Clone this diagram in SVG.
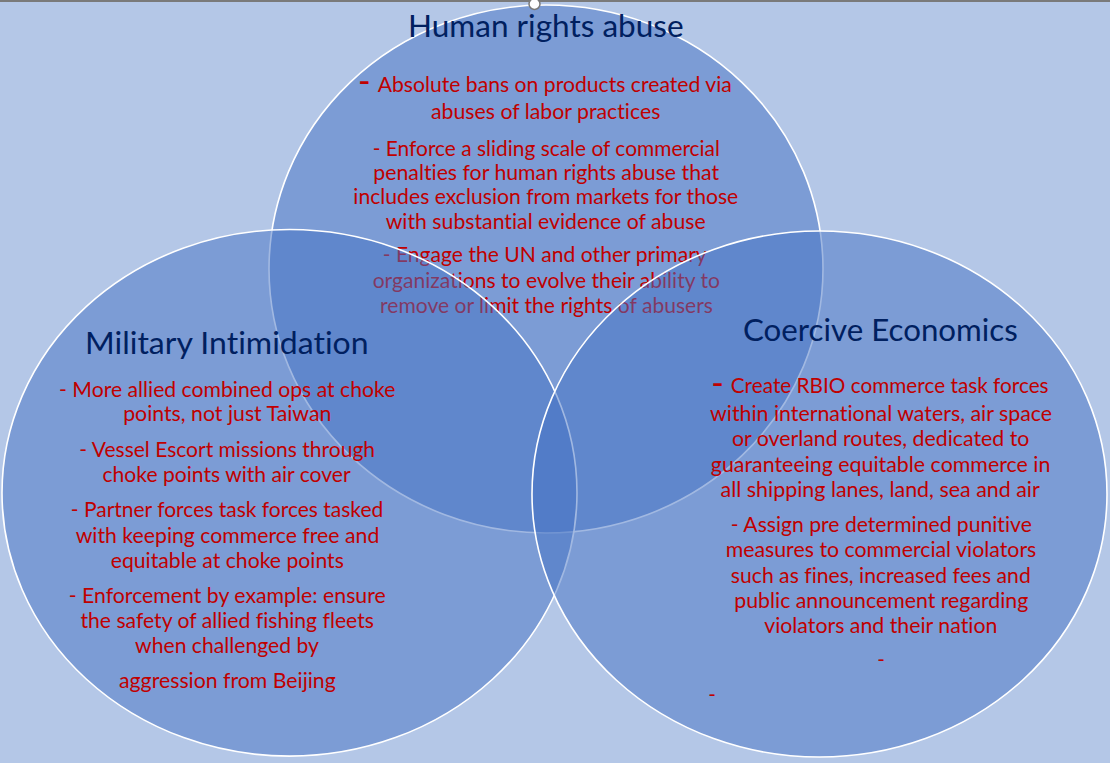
<svg xmlns="http://www.w3.org/2000/svg" width="1110" height="763" viewBox="0 0 1110 763">
<style>
.bg{fill:#b4c7e7}
.venn{fill:#4472c4;fill-opacity:0.5;stroke:#ffffff;stroke-width:1.6}
.ttl{font-family:Lato,"Liberation Sans",sans-serif;font-size:31px;fill:#002060;text-anchor:middle;font-variant-ligatures:none}
.bd{font-family:Lato,"Liberation Sans",sans-serif;font-size:20.5px;fill:#c00000;text-anchor:middle;font-variant-ligatures:none}
.dash{font-family:Lato,"Liberation Sans",sans-serif;font-size:34px;fill:#c00000;text-anchor:middle}
</style>
<rect class="bg" x="0" y="0" width="1110" height="763"/>
<line x1="0" y1="1" x2="1110" y2="1" stroke="#7a7a7a" stroke-width="2"/>

<g id="human-rights-abuse">
<ellipse class="venn" cx="546" cy="269" rx="277" ry="264"/>
<text class="ttl" x="545.8" y="37.3" textLength="275.6" lengthAdjust="spacingAndGlyphs">Human rights abuse</text>
<text class="dash" x="364.3" y="93.2">-</text>
<text class="bd" x="554.7" y="91.7" textLength="354.1" lengthAdjust="spacingAndGlyphs">Absolute bans on products created via</text>
<text class="bd" x="545.7" y="119" textLength="229.3" lengthAdjust="spacingAndGlyphs">abuses of labor practices</text>
<text class="bd" x="546.3" y="155.7" textLength="347.3" lengthAdjust="spacingAndGlyphs">- Enforce a sliding scale of commercial</text>
<text class="bd" x="546.2" y="180" textLength="345.7" lengthAdjust="spacingAndGlyphs">penalties for human rights abuse that</text>
<text class="bd" x="545.8" y="204.3" textLength="385" lengthAdjust="spacingAndGlyphs">includes exclusion from markets for those</text>
<text class="bd" x="545.7" y="229" textLength="320" lengthAdjust="spacingAndGlyphs">with substantial evidence of abuse</text>
<text class="bd" x="544.7" y="262.3" textLength="324" lengthAdjust="spacingAndGlyphs">- Engage the UN and other primary</text>
<text class="bd" x="546.3" y="288.3" textLength="347.3" lengthAdjust="spacingAndGlyphs">organizations to evolve their ability to</text>
<text class="bd" x="546.5" y="312.7" textLength="333" lengthAdjust="spacingAndGlyphs">remove or limit the rights of abusers</text>
</g>

<g id="military-intimidation">
<ellipse class="venn" cx="289.5" cy="492.8" rx="287.5" ry="263.3"/>
<text class="ttl" x="226.8" y="354" textLength="283.6" lengthAdjust="spacingAndGlyphs">Military Intimidation</text>
<text class="bd" x="227.2" y="396.7" textLength="336.4" lengthAdjust="spacingAndGlyphs">- More allied combined ops at choke</text>
<text class="bd" x="227.3" y="420.7" textLength="208.2" lengthAdjust="spacingAndGlyphs">points, not just Taiwan</text>
<text class="bd" x="227.2" y="456.7" textLength="295.7" lengthAdjust="spacingAndGlyphs">- Vessel Escort missions through</text>
<text class="bd" x="226.6" y="481.7" textLength="248.2" lengthAdjust="spacingAndGlyphs">choke points with air cover</text>
<text class="bd" x="227" y="517.3" textLength="312.5" lengthAdjust="spacingAndGlyphs">- Partner forces task forces tasked</text>
<text class="bd" x="227.5" y="542.5" textLength="303.6" lengthAdjust="spacingAndGlyphs">with keeping commerce free and</text>
<text class="bd" x="227.3" y="567.8" textLength="233.2" lengthAdjust="spacingAndGlyphs">equitable at choke points</text>
<text class="bd" x="227.2" y="603" textLength="317.1" lengthAdjust="spacingAndGlyphs">- Enforcement by example: ensure</text>
<text class="bd" x="227.2" y="627.7" textLength="293.5" lengthAdjust="spacingAndGlyphs">the safety of allied fishing fleets</text>
<text class="bd" x="227" y="652.5" textLength="183.9" lengthAdjust="spacingAndGlyphs">when challenged by</text>
<text class="bd" x="227.4" y="688" textLength="216.7" lengthAdjust="spacingAndGlyphs">aggression from Beijing</text>
</g>

<g id="coercive-economics">
<ellipse class="venn" cx="819.5" cy="494" rx="287.5" ry="263"/>
<text class="ttl" x="880.4" y="340.7" textLength="274.7" lengthAdjust="spacingAndGlyphs">Coercive Economics</text>
<text class="dash" x="717.5" y="394.9">-</text>
<text class="bd" x="889.7" y="393.3" textLength="317.8" lengthAdjust="spacingAndGlyphs">Create RBIO commerce task forces</text>
<text class="bd" x="881" y="421" textLength="342" lengthAdjust="spacingAndGlyphs">within international waters, air space</text>
<text class="bd" x="880.6" y="446.3" textLength="297.4" lengthAdjust="spacingAndGlyphs">or overland routes, dedicated to</text>
<text class="bd" x="880.6" y="471.7" textLength="339.5" lengthAdjust="spacingAndGlyphs">guaranteeing equitable commerce in</text>
<text class="bd" x="880.2" y="496.7" textLength="319.2" lengthAdjust="spacingAndGlyphs">all shipping lanes, land, sea and air</text>
<text class="bd" x="881.3" y="531.7" textLength="301" lengthAdjust="spacingAndGlyphs">- Assign pre determined punitive</text>
<text class="bd" x="881" y="557" textLength="310.7" lengthAdjust="spacingAndGlyphs">measures to commercial violators</text>
<text class="bd" x="880.8" y="582.5" textLength="299.9" lengthAdjust="spacingAndGlyphs">such as fines, increased fees and</text>
<text class="bd" x="881.3" y="608" textLength="294" lengthAdjust="spacingAndGlyphs">public announcement regarding</text>
<text class="bd" x="880.8" y="632.7" textLength="233.3" lengthAdjust="spacingAndGlyphs">violators and their nation</text>
<text class="bd" x="881" y="667">-</text>
<text class="bd" x="712" y="702">-</text>
</g>

<circle cx="534.5" cy="4" r="5.5" fill="#ffffff" stroke="#7a7a7a" stroke-width="1.5"/>
</svg>
